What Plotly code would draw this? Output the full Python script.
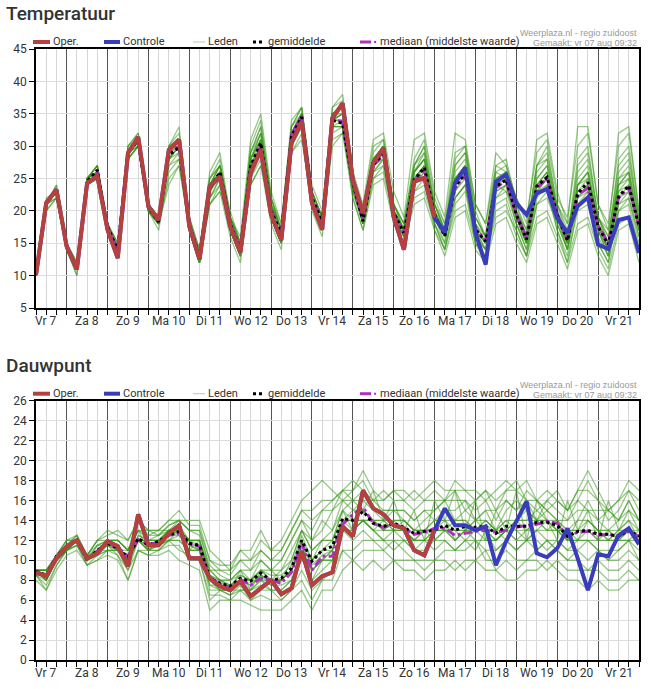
import pandas as pd
import plotly.graph_objects as go
from plotly.subplots import make_subplots

# tijdstappen: elke 6 uur vanaf vr 7 aug 06:00
times = pd.date_range("2020-08-07 06:00", periods=60, freq="6h")
day_starts = pd.date_range("2020-08-08", "2020-08-21", freq="D")
day_noons = pd.date_range("2020-08-07 12:00", "2020-08-21 12:00", freq="D")
day_labels = ["Vr 7", "Za 8", "Zo 9", "Ma 10", "Di 11", "Wo 12", "Do 13", "Vr 14",
              "Za 15", "Zo 16", "Ma 17", "Di 18", "Wo 19", "Do 20", "Vr 21"]

# ---------------- Temperatuur ----------------
temp_oper = [10.1, 21.2, 23.3, 14.5, 11.0, 24.3, 25.4, 17.1, 12.7, 28.9, 31.4, 20.7, 18.6, 29.4, 31.0,
             17.6, 12.5, 23.8, 25.3, 17.6, 13.6, 25.8, 29.4, 19.4, 15.5, 30.5, 33.8, 21.2, 17.1, 34.3,
             36.6, 24.8, 19.7, 27.4, 29.7, 19.1, 14.0, 24.5, 25.1, 19.0]
temp_ctrl = [10.1, 21.2, 23.3, 14.5, 11.0, 24.3, 25.4, 17.1, 12.7, 28.9, 31.4, 20.7, 18.6, 29.4, 31.0,
             17.6, 12.5, 23.8, 25.3, 17.6, 13.6, 25.8, 29.4, 19.4, 15.5, 30.5, 33.8, 21.2, 17.1, 34.3,
             36.6, 24.8, 19.7, 27.4, 29.7, 19.1, 14.0, 24.5, 25.1, 18.9, 16.7, 24.3, 26.7, 16.6, 11.7,
             24.5, 25.6, 21.2, 19.4, 22.7, 23.4, 18.9, 16.6, 20.7, 22.1, 14.8, 14.1, 18.6, 19.0, 13.5]
temp_mean = [10.2, 21.3, 23.0, 14.6, 11.0, 24.5, 26.3, 17.5, 14.0, 29.0, 30.9, 20.5, 18.3, 28.6, 29.8,
             17.8, 13.0, 23.5, 26.0, 18.0, 14.0, 27.0, 30.5, 20.0, 16.5, 31.5, 34.5, 22.0, 18.4, 34.0,
             33.5, 24.3, 18.4, 27.1, 28.9, 19.7, 16.6, 24.8, 26.7, 19.4, 16.1, 23.8, 25.8, 17.1, 15.3,
             23.8, 24.8, 19.4, 15.6, 23.8, 25.2, 19.4, 15.4, 22.7, 24.4, 17.6, 14.8, 22.2, 23.9, 17.6]
temp_median = [10.2, 21.2, 23.1, 14.6, 11.0, 24.4, 26.0, 17.4, 14.2, 29.1, 30.8, 20.6, 18.4, 29.0, 30.2,
               17.9, 13.0, 23.4, 25.8, 18.1, 14.2, 26.6, 30.1, 20.1, 16.7, 31.8, 34.7, 22.1, 18.5, 34.3,
               33.7, 24.2, 18.6, 27.0, 28.6, 19.6, 16.8, 24.5, 26.4, 19.3, 16.3, 23.5, 25.5, 17.2, 15.5,
               23.6, 24.6, 19.5, 15.9, 23.5, 25.0, 19.5, 15.6, 22.5, 23.5, 17.7, 15.0, 22.0, 23.6, 17.8]
temp_leden = [
    [10, 21, 23, 15, 11, 25, 27, 18, 14, 29, 31, 21, 19, 30, 32, 18, 13, 25, 28, 18, 15, 30, 34, 22, 17, 33, 36, 23, 19, 36,
     37, 25, 20, 29, 31, 21, 17, 27, 29, 21, 17, 28, 30, 19, 16, 26, 27, 21, 17, 27, 29, 21, 16, 28, 30, 19, 15, 26, 28, 19],
    [10, 20, 22, 14, 10, 24, 25, 17, 13, 28, 30, 20, 18, 25, 27, 17, 12, 22, 24, 17, 13, 25, 28, 19, 15, 30, 33, 21, 17, 32,
     33, 23, 18, 25, 26, 19, 16, 22, 23, 18, 14, 20, 21, 15, 13, 19, 20, 17, 13, 19, 20, 16, 12, 18, 19, 14, 11, 18, 19, 14],
    [10, 21, 24, 15, 11, 25, 26, 18, 14, 29, 31, 21, 18, 29, 31, 19, 13, 24, 27, 19, 14, 28, 31, 21, 17, 32, 35, 22, 18, 35,
     36, 24, 19, 28, 30, 20, 17, 26, 28, 20, 16, 26, 28, 18, 15, 25, 26, 19, 16, 26, 28, 20, 15, 24, 26, 18, 14, 25, 26, 17],
    [10, 22, 23, 15, 11, 24, 26, 17, 14, 30, 32, 21, 19, 30, 33, 19, 14, 26, 29, 19, 16, 31, 35, 23, 18, 34, 36, 24, 20, 36,
     38, 26, 21, 31, 32, 23, 19, 31, 32, 23, 19, 32, 31, 21, 18, 29, 27, 22, 18, 31, 32, 23, 18, 33, 33, 21, 17, 32, 33, 20],
    [10, 21, 22, 14, 10, 24, 25, 17, 13, 28, 30, 20, 18, 27, 28, 17, 12, 21, 23, 16, 12, 24, 27, 18, 14, 29, 32, 20, 16, 31,
     32, 22, 17, 24, 25, 18, 15, 21, 22, 17, 13, 19, 20, 14, 12, 18, 19, 15, 12, 18, 19, 15, 11, 17, 18, 13, 10, 17, 18, 12],
    [10, 21, 23, 14, 11, 24, 26, 17, 14, 29, 31, 20, 18, 28, 30, 18, 13, 23, 26, 18, 14, 27, 30, 20, 16, 31, 34, 22, 18, 34,
     34, 24, 19, 27, 29, 20, 17, 25, 27, 19, 16, 23, 26, 17, 15, 24, 25, 19, 15, 24, 25, 19, 15, 22, 24, 17, 14, 22, 24, 17],
    [10, 21, 23, 15, 12, 25, 27, 18, 15, 29, 31, 21, 19, 29, 30, 18, 13, 24, 26, 19, 15, 26, 29, 21, 17, 31, 34, 23, 19, 33,
     33, 24, 19, 26, 28, 20, 17, 24, 27, 21, 18, 25, 27, 19, 16, 24, 23, 20, 16, 23, 25, 21, 17, 23, 25, 19, 16, 21, 23, 18],
    [10, 20, 22, 14, 11, 24, 26, 17, 14, 29, 30, 20, 18, 27, 29, 17, 12, 22, 25, 17, 13, 27, 31, 20, 16, 32, 35, 22, 18, 35,
     35, 24, 18, 28, 30, 20, 16, 26, 29, 19, 15, 25, 27, 17, 14, 23, 24, 19, 15, 24, 26, 19, 15, 24, 26, 18, 14, 25, 27, 18],
    [10, 21, 23, 15, 11, 25, 26, 18, 14, 29, 31, 21, 18, 29, 31, 18, 13, 24, 26, 18, 14, 28, 32, 21, 17, 32, 35, 22, 18, 34,
     34, 24, 18, 27, 28, 19, 16, 24, 26, 19, 16, 22, 24, 16, 14, 22, 24, 18, 14, 21, 22, 18, 14, 21, 23, 17, 14, 20, 22, 16],
    [10, 21, 24, 15, 12, 25, 27, 18, 15, 30, 32, 21, 19, 30, 31, 19, 14, 25, 27, 19, 15, 29, 33, 22, 18, 33, 35, 23, 19, 35,
     36, 25, 20, 30, 31, 21, 18, 28, 31, 22, 18, 29, 30, 21, 18, 27, 26, 22, 19, 29, 31, 22, 19, 30, 32, 21, 18, 30, 32, 20],
    [10, 21, 23, 14, 11, 24, 25, 17, 13, 28, 30, 20, 17, 26, 28, 17, 12, 21, 24, 17, 13, 26, 29, 19, 15, 30, 33, 21, 17, 33,
     33, 23, 18, 26, 27, 19, 16, 23, 24, 18, 14, 21, 23, 15, 12, 21, 22, 17, 13, 21, 23, 17, 13, 20, 21, 15, 12, 21, 22, 15],
    [10, 21, 23, 15, 11, 25, 27, 17, 14, 29, 31, 21, 18, 28, 30, 18, 13, 23, 26, 18, 14, 28, 31, 21, 16, 31, 34, 22, 18, 34,
     35, 24, 19, 27, 29, 20, 17, 26, 28, 19, 16, 24, 26, 17, 15, 24, 25, 19, 15, 25, 27, 19, 14, 24, 25, 17, 13, 23, 25, 17],
    [10, 21, 23, 15, 11, 24, 26, 18, 15, 29, 31, 21, 19, 29, 31, 18, 13, 24, 27, 19, 15, 29, 33, 21, 17, 32, 35, 23, 19, 35,
     36, 25, 19, 28, 29, 20, 17, 25, 27, 20, 17, 25, 26, 18, 16, 25, 26, 20, 16, 25, 27, 20, 16, 25, 27, 18, 15, 23, 24, 18],
    [10, 21, 23, 14, 11, 25, 26, 17, 14, 29, 31, 20, 18, 28, 29, 17, 12, 23, 25, 17, 13, 26, 30, 20, 16, 31, 34, 22, 17, 33,
     34, 23, 18, 26, 28, 19, 16, 24, 26, 18, 15, 22, 24, 16, 14, 22, 23, 18, 14, 22, 24, 18, 14, 22, 23, 16, 13, 22, 23, 16],
    [10, 21, 23, 15, 11, 24, 26, 17, 14, 29, 31, 21, 18, 24, 27, 18, 13, 21, 23, 18, 14, 24, 27, 20, 15, 29, 31, 21, 17, 30,
     32, 24, 19, 27, 30, 21, 18, 27, 30, 20, 17, 27, 29, 20, 16, 27, 28, 21, 16, 27, 30, 20, 15, 27, 29, 19, 15, 28, 30, 19],
    [10, 21, 23, 15, 11, 25, 27, 18, 14, 30, 31, 21, 19, 29, 31, 18, 14, 25, 27, 19, 15, 29, 32, 22, 17, 33, 36, 23, 19, 35,
     36, 25, 20, 28, 30, 21, 18, 27, 30, 21, 17, 27, 29, 19, 16, 26, 25, 20, 17, 27, 28, 20, 16, 26, 28, 19, 16, 27, 29, 18],
    [10, 21, 22, 14, 11, 24, 25, 17, 13, 28, 30, 20, 18, 28, 30, 17, 12, 22, 25, 17, 13, 26, 30, 19, 15, 31, 34, 21, 17, 33,
     33, 22, 17, 25, 27, 18, 15, 23, 25, 17, 14, 22, 24, 15, 13, 20, 21, 16, 13, 23, 24, 17, 12, 21, 22, 15, 12, 20, 21, 14],
    [10, 21, 23, 15, 12, 25, 26, 18, 14, 29, 31, 21, 19, 29, 31, 19, 13, 24, 27, 20, 15, 28, 32, 22, 17, 32, 35, 23, 18, 34,
     35, 24, 19, 28, 30, 21, 17, 26, 28, 21, 17, 23, 25, 17, 14, 23, 24, 18, 15, 23, 25, 21, 18, 22, 24, 19, 17, 24, 26, 18],
    [10, 21, 23, 14, 11, 24, 26, 17, 14, 29, 31, 20, 18, 29, 30, 18, 13, 23, 26, 18, 14, 28, 31, 20, 16, 31, 34, 22, 18, 34,
     35, 24, 18, 27, 29, 20, 17, 25, 27, 19, 16, 24, 27, 17, 15, 24, 26, 19, 15, 24, 26, 19, 14, 23, 24, 17, 13, 24, 26, 17],
    [10, 21, 23, 15, 11, 25, 26, 18, 14, 29, 30, 21, 18, 28, 30, 18, 13, 24, 26, 18, 14, 27, 30, 21, 17, 32, 35, 22, 18, 34,
     35, 24, 19, 27, 29, 20, 17, 26, 28, 20, 16, 25, 27, 18, 15, 24, 26, 19, 15, 24, 26, 19, 15, 24, 26, 18, 14, 24, 25, 17],
]

# ---------------- Dauwpunt ----------------
dew_oper = [8.8, 8.4, 10.2, 11.4, 12.0, 10.2, 10.7, 11.9, 11.4, 9.4, 14.6, 11.5, 11.5, 12.7, 13.5,
            10.2, 10.2, 8.2, 7.4, 7.0, 7.9, 6.4, 7.2, 8.0, 6.6, 7.2, 10.9, 7.5, 8.4, 8.8,
            13.4, 12.4, 17.0, 15.2, 14.6, 13.5, 13.2, 11.0, 10.5, 13.0]
dew_ctrl = [8.8, 8.4, 10.2, 11.4, 12.0, 10.2, 10.7, 11.9, 11.4, 9.4, 14.6, 11.5, 11.5, 12.7, 13.5,
            10.2, 10.2, 8.2, 7.4, 7.0, 7.9, 6.4, 7.2, 8.0, 6.6, 7.2, 10.9, 7.5, 8.4, 8.8,
            13.4, 12.4, 17.0, 15.2, 14.6, 13.5, 13.2, 11.0, 10.5, 13.0, 15.2, 13.5, 13.5, 13.0, 13.4,
            9.5, 11.9, 14.0, 15.9, 10.7, 10.3, 11.2, 13.2, 10.2, 7.0, 10.6, 10.4, 12.5, 13.2, 11.6]
dew_mean = [8.9, 8.5, 10.4, 11.4, 12.0, 10.0, 11.0, 11.7, 11.2, 10.3, 12.2, 11.5, 11.9, 12.5, 12.9,
            11.7, 11.5, 8.2, 7.7, 7.4, 8.2, 7.9, 8.7, 8.0, 8.2, 9.2, 12.0, 9.9, 11.0, 11.4,
            14.2, 14.0, 14.9, 13.7, 13.4, 13.7, 13.3, 12.7, 12.9, 13.0, 13.5, 13.0, 13.4, 13.3, 13.4,
            12.7, 13.4, 13.4, 13.4, 13.8, 13.8, 13.5, 12.4, 12.9, 13.0, 12.6, 12.6, 12.4, 13.0, 12.4]
dew_median = [8.8, 8.5, 10.3, 11.4, 12.0, 10.1, 10.9, 11.7, 11.3, 10.4, 12.1, 11.6, 11.8, 12.5, 12.7,
              11.6, 11.4, 8.3, 7.6, 7.3, 8.1, 7.5, 8.2, 8.0, 7.7, 8.8, 11.7, 9.0, 10.4, 10.4,
              13.6, 14.6, 15.3, 13.7, 13.3, 13.6, 13.2, 12.6, 12.8, 13.2, 13.2, 12.5, 12.7, 12.9, 13.0,
              12.8, 13.0, 13.3, 13.5, 13.6, 13.9, 13.7, 12.4, 12.8, 12.9, 12.5, 12.6, 12.4, 12.9, 12.4]
dew_leden = [
    [9, 8.5, 10, 11.5, 12, 10, 11.5, 12, 12, 11, 13, 12, 12, 13, 13.5, 12, 12, 9, 8, 8, 9, 8, 10, 9, 9, 11, 13, 11, 12, 13,
     16, 15, 16, 15, 14, 15, 14, 13, 14, 15, 16, 14, 15, 14, 15, 13, 15, 16, 15, 14, 15, 14, 13, 14, 16, 14, 13, 14, 15, 13],
    [8.5, 8, 10, 11, 11.5, 10, 10.5, 11, 11, 9, 12, 11, 11.5, 12, 12, 11, 11, 7, 7, 6.5, 7, 7, 7.5, 7, 7, 8, 11, 9, 10, 10,
     13, 13, 14, 13, 12, 12, 12, 11, 11, 12, 12, 11, 12, 12, 11, 11, 12, 11, 12, 12, 11, 12, 11, 11, 10, 11, 10, 10, 11, 10],
    [9, 9, 10.5, 12, 12, 10.5, 12, 12.5, 13, 12, 14, 12.5, 13, 13, 14, 13, 13, 10, 9, 9, 10, 9, 11, 10, 10, 12, 14, 12, 13, 15,
     16, 16, 17, 15, 15, 15, 15, 14, 15, 14, 15, 15, 16, 15, 16, 14, 16, 15, 16, 15, 16, 15, 14, 16, 15, 14, 15, 14, 16, 14],
    [8.5, 7, 9.5, 11, 12, 10, 10.5, 11.5, 10.5, 8, 11, 11, 11, 12, 11, 10.5, 10, 6, 7, 6.5, 7.5, 6, 7, 7, 6, 7, 9, 7, 8, 8,
     11, 11, 12, 12, 11, 12, 11, 10, 10, 10, 11, 11, 11, 12, 10, 10, 11, 10, 10, 11, 12, 11, 10, 10, 9, 10, 9, 9, 10, 9],
    [9, 9, 10, 11.5, 12.5, 10.5, 11, 12, 12, 11, 13, 13, 13, 14, 14, 14, 14, 11, 10, 9, 11, 11, 13, 11, 12, 14, 16, 17, 18, 17,
     16, 17, 18, 16, 17, 16, 16, 17, 16, 17, 16, 18, 17, 16, 17, 15, 17, 18, 16, 14, 16, 17, 15, 16, 18, 16, 15, 16, 17, 16],
    [8, 7, 9, 10.5, 11, 9.5, 10, 10.5, 10, 8, 11, 10.5, 10.5, 11, 10, 9.5, 9, 5, 6, 6, 6, 5.5, 5, 5, 5, 6, 7, 5, 7, 7,
     9, 10, 9, 10, 9, 10, 9, 9, 8, 9, 9, 10, 9, 10, 9, 9, 8, 8, 9, 9, 10, 9, 8, 8, 7, 8, 7, 7, 8, 8],
    [9, 8.5, 10.5, 11.5, 12, 10, 11, 12, 11.5, 10, 12.5, 12, 12.5, 13, 13, 12, 12, 8, 7, 7, 8, 8, 9, 8, 8, 9, 12, 8, 10, 11,
     14, 14, 15, 14, 14, 13, 14, 13, 13, 14, 14, 13, 13, 13, 14, 13, 13, 14, 14, 14, 14, 13, 13, 13, 13, 13, 12, 13, 13, 12],
    [9, 8, 10, 11, 12, 10, 11, 12, 11, 10, 12, 11, 12, 12.5, 13, 12, 11.5, 8.5, 8, 8, 8.5, 8, 8, 8, 8, 9, 11, 10, 11, 11,
     14, 14, 14, 14, 13, 14, 13, 12, 13, 13, 13, 13, 13, 14, 13, 13, 14, 13, 13, 14, 13, 14, 12, 13, 13, 12, 13, 12, 12, 13],
    [9, 9, 10, 11, 12, 10, 11, 11, 11, 11, 13, 11, 12, 12, 13, 11, 12, 9, 8, 7, 9, 7, 9, 9, 8, 10, 13, 11, 12, 12,
     15, 13, 14, 13, 14, 13, 13, 12, 13, 12, 13, 14, 14, 13, 13, 12, 13, 14, 13, 14, 13, 13, 12, 14, 14, 13, 12, 13, 14, 12],
    [8.5, 8.5, 10, 11, 11.5, 9.5, 10.5, 11, 11, 10, 12, 11, 11, 12, 12, 11, 11, 7.5, 7, 7, 7, 7, 8, 7, 7, 8, 10, 9, 10, 10,
     13, 13, 14, 13, 12, 13, 12, 12, 12, 12, 13, 12, 13, 12, 12, 12, 13, 12, 12, 13, 12, 12, 11, 12, 12, 11, 11, 11, 12, 11],
    [9, 8.5, 10.5, 12, 12, 10.5, 12, 12, 12, 11, 14, 13, 12.5, 13.5, 14, 13, 13, 9, 9, 8.5, 10, 10, 11, 10, 11, 13, 15, 14, 15, 15,
     17, 18, 17, 16, 16, 17, 16, 15, 16, 16, 16, 17, 15, 16, 17, 16, 17, 17, 16, 16, 15, 16, 15, 17, 17, 16, 14, 15, 17, 15],
    [9, 8, 10, 11, 12, 10, 11.5, 11.5, 11.5, 10, 12, 12, 12, 12.5, 13, 12, 11, 8, 8, 7.5, 8, 7.5, 8.5, 8, 8, 9, 12, 10, 11, 12,
     14, 15, 15, 14, 13, 14, 14, 13, 13, 13, 14, 12, 13, 14, 14, 13, 12, 14, 15, 14, 14, 13, 13, 12, 14, 13, 13, 12, 13, 13],
    [9, 8, 10, 11.5, 12, 10, 11, 12, 11, 10, 12, 11.5, 12, 12.5, 13, 11.5, 11, 8, 7.5, 7.5, 8, 8, 8.5, 8, 8, 9, 11, 9, 10, 11,
     14, 14, 14, 14, 13, 13, 13, 12, 12, 13, 13, 13, 12, 13, 13, 12, 13, 13, 12, 13, 14, 13, 12, 12, 13, 12, 12, 12, 13, 12],
    [9, 8, 10, 11, 12, 10, 11, 12, 11, 10, 12, 12, 12, 13, 13, 12, 12, 8, 7, 7, 8, 8, 9, 8, 9, 10, 13, 12, 14, 13,
     15, 16, 15, 17, 14, 16, 13, 15, 12, 16, 14, 17, 13, 16, 12, 15, 13, 17, 12, 16, 14, 12, 16, 13, 15, 12, 16, 13, 15, 14],
    [9, 8.5, 10, 11, 12, 10, 11, 11.5, 11, 9.5, 12, 11, 11.5, 12, 12.5, 11, 11, 7.5, 7.5, 7, 8, 7, 8, 7.5, 7.5, 8, 11, 8, 9, 10,
     13, 12, 13, 12, 12, 11, 12, 11, 12, 11, 12, 11, 12, 11, 13, 11, 12, 11, 12, 11, 12, 11, 10, 11, 12, 11, 10, 11, 12, 10],
    [9, 9, 10.5, 11.5, 12.5, 10.5, 11.5, 12, 12, 11, 13, 12.5, 12.5, 13.5, 14, 13, 12.5, 9.5, 8.5, 8, 9, 9, 10, 9, 10, 12, 14, 13, 15, 16,
     17, 16, 16, 16, 15, 15, 15, 14, 15, 15, 16, 16, 16, 14, 15, 15, 16, 15, 17, 16, 15, 14, 14, 15, 15, 15, 15, 14, 16, 14],
    [8.5, 7.5, 9.5, 11, 11.5, 9.5, 10, 11, 10.5, 9, 11, 10.5, 11, 11.5, 11.5, 10, 10, 6.5, 6.5, 6, 7, 6, 6.5, 6, 6, 7, 8, 6, 8, 9,
     11, 10, 11, 11, 11, 10, 10, 10, 9, 10, 10, 9, 10, 10, 11, 9, 10, 9, 10, 10, 9, 10, 9, 9, 9, 9, 8, 8, 9, 8],
    [9, 8.5, 10, 11.5, 12, 10, 11, 12, 11.5, 10, 12.5, 12, 12, 13, 13, 12, 12, 8.5, 8, 7.5, 8.5, 8, 9, 8.5, 8.5, 9.5, 12.5, 10, 12, 12,
     15, 14, 15, 14, 14, 14, 14, 13, 13, 14, 14, 14, 14, 13, 14, 13, 14, 14, 14, 15, 14, 14, 13, 13, 14, 13, 13, 13, 14, 13],
    [9, 8, 10, 11, 12, 10, 11, 11.5, 11, 10, 12, 11.5, 12, 12.5, 12.5, 11.5, 11, 8, 7.5, 7, 8, 7.5, 8.5, 7.5, 8, 9, 11.5, 9.5, 10.5, 11,
     14, 13, 14, 13, 13, 13, 13, 12, 12, 13, 13, 12, 13, 13, 12, 12, 13, 12, 13, 13, 13, 13, 12, 12, 12, 12, 12, 12, 12, 12],
    [9, 9, 10.5, 12, 12.5, 10.5, 12, 13, 12.5, 12, 14, 13, 13, 14, 15, 13.5, 13.5, 10, 9.5, 9.5, 11, 10, 12, 11, 11, 13, 15, 15, 16, 16,
     17, 17, 19, 17, 16, 17, 17, 16, 17, 18, 17, 17, 17, 17, 16, 17, 18, 17, 18, 16, 17, 16, 15, 17, 19, 17, 15, 16, 18, 17],
]

RED = "#b8403c"
BLUE = "#3a3dbb"
GREEN = "rgba(50,150,15,0.5)"
MAGENTA = "#b030c0"

fig = make_subplots(rows=2, cols=1, vertical_spacing=0.15)


def add_panel(row, leden, median, mean, ctrl, oper):
    for member in leden:
        fig.add_trace(go.Scatter(x=times, y=member, mode="lines", name="Leden", showlegend=False,
                                 line=dict(color=GREEN, width=1.3)), row=row, col=1)
    fig.add_trace(go.Scatter(x=times, y=median, mode="lines", name="mediaan", showlegend=False,
                             line=dict(color=MAGENTA, width=3, dash="dashdot")), row=row, col=1)
    fig.add_trace(go.Scatter(x=times, y=mean, mode="lines", name="gemiddelde", showlegend=False,
                             line=dict(color="black", width=3, dash="dot")), row=row, col=1)
    fig.add_trace(go.Scatter(x=times, y=ctrl, mode="lines", name="Controle", showlegend=False,
                             line=dict(color=BLUE, width=4)), row=row, col=1)
    fig.add_trace(go.Scatter(x=times[:len(oper)], y=oper, mode="lines", name="Oper.", showlegend=False,
                             line=dict(color=RED, width=4)), row=row, col=1)


add_panel(1, temp_leden, temp_median, temp_mean, temp_ctrl, temp_oper)
add_panel(2, dew_leden, dew_median, dew_mean, dew_ctrl, dew_oper)

W, H = 651, 689
ML, MR, MT, MB = 36, 12, 49, 29
PW, PH = W - ML - MR, H - MT - MB


def px_x(px):
    return (px - ML) / PW


def px_y(py):
    return (H - MB - py) / PH


fig.update_layout(
    width=W, height=H,
    margin=dict(l=ML, r=MR, t=MT, b=MB, autoexpand=False),
    plot_bgcolor="white", paper_bgcolor="white",
    font=dict(family="Roboto, Arial, sans-serif", size=11, color="#333"),
    showlegend=False,
)
fig.update_layout(yaxis=dict(domain=[px_y(308), 1.0]), yaxis2=dict(domain=[0.0, px_y(400.7)]))

fig.update_xaxes(range=[times[0], times[-1]], tickmode="array", tickvals=day_starts,
                 showticklabels=False, ticks="outside", ticklen=5, tickcolor="black",
                 showgrid=True, gridcolor="#555", gridwidth=1,
                 minor=dict(dtick=6 * 3600 * 1000, tick0="2020-08-07", ticks="outside", ticklen=5,
                            tickcolor="black", showgrid=True, gridcolor="#d6d6d6"),
                 showline=True, linecolor="black", linewidth=1.5, mirror=True, zeroline=False)
fig.update_yaxes(ticks="outside", ticklen=5, tickcolor="black", gridcolor="#dddddd",
                 showline=True, linecolor="black", linewidth=1.5, mirror=True, zeroline=False,
                 tickfont=dict(size=12, color="#333"))
fig.update_yaxes(range=[5, 45], dtick=5, row=1, col=1)
fig.update_yaxes(range=[0, 26], dtick=2, row=2, col=1)

for xref, yref in (("x", "y domain"), ("x2", "y2 domain")):
    for noon, lab in zip(day_noons, day_labels):
        fig.add_annotation(x=noon, y=0, xref=xref, yref=yref, text=lab, showarrow=False,
                           yanchor="top", yshift=-4, font=dict(size=12, color="#333"))

# eigen legenda per paneel: (tekst, symbool van, symbool tot, tekst x)
legend_items = [("Oper.", 33, 50, 51), ("Controle", 104, 120, 121), ("Leden", 193, 205, 206),
                ("gemiddelde", 253, 265, 266), ("mediaan (middelste waarde)", 360, 371, 378)]
legend_styles = [dict(color=RED, width=4), dict(color=BLUE, width=4),
                 dict(color="rgba(120,180,100,0.6)", width=1),
                 dict(color="black", width=3, dash="dot"),
                 dict(color=MAGENTA, width=3)]

for title, top in (("Temperatuur", 49), ("Dauwpunt", 400.7)):
    fig.add_annotation(x=px_x(4), y=px_y(top - 35), xref="paper", yref="paper", text=title,
                       showarrow=False, xanchor="left", yanchor="middle",
                       font=dict(size=19, color="#333", weight=500))
    fig.add_annotation(x=1.0, y=px_y(top - 16), xref="paper", yref="paper",
                       text="Weerplaza.nl - regio zuidoost", showarrow=False, xanchor="right",
                       yanchor="middle", font=dict(family="Liberation Sans, Arial", size=9, color="#999"))
    fig.add_annotation(x=1.0, y=px_y(top - 6), xref="paper", yref="paper",
                       text="Gemaakt: vr 07 aug 09:32", showarrow=False, xanchor="right",
                       yanchor="middle", font=dict(family="Liberation Sans, Arial", size=9, color="#999"))
    ly = top - 7
    for (lab, x0, x1, tx), st in zip(legend_items, legend_styles):
        fig.add_shape(type="line", xref="paper", yref="paper", x0=px_x(x0), x1=px_x(x1),
                      y0=px_y(ly), y1=px_y(ly), line=st)
        fig.add_annotation(x=px_x(tx), y=px_y(ly), xref="paper", yref="paper", text=lab,
                           showarrow=False, xanchor="left", yanchor="middle",
                           font=dict(size=11, color="#333"))
    # puntje achter het mediaan-streepje
    fig.add_shape(type="line", xref="paper", yref="paper", x0=px_x(374), x1=px_x(376),
                  y0=px_y(ly), y1=px_y(ly), line=dict(color=MAGENTA, width=2))

fig.write_html("out.html", config={"displayModeBar": False},
               post_script="document.body.style.margin='0';")
